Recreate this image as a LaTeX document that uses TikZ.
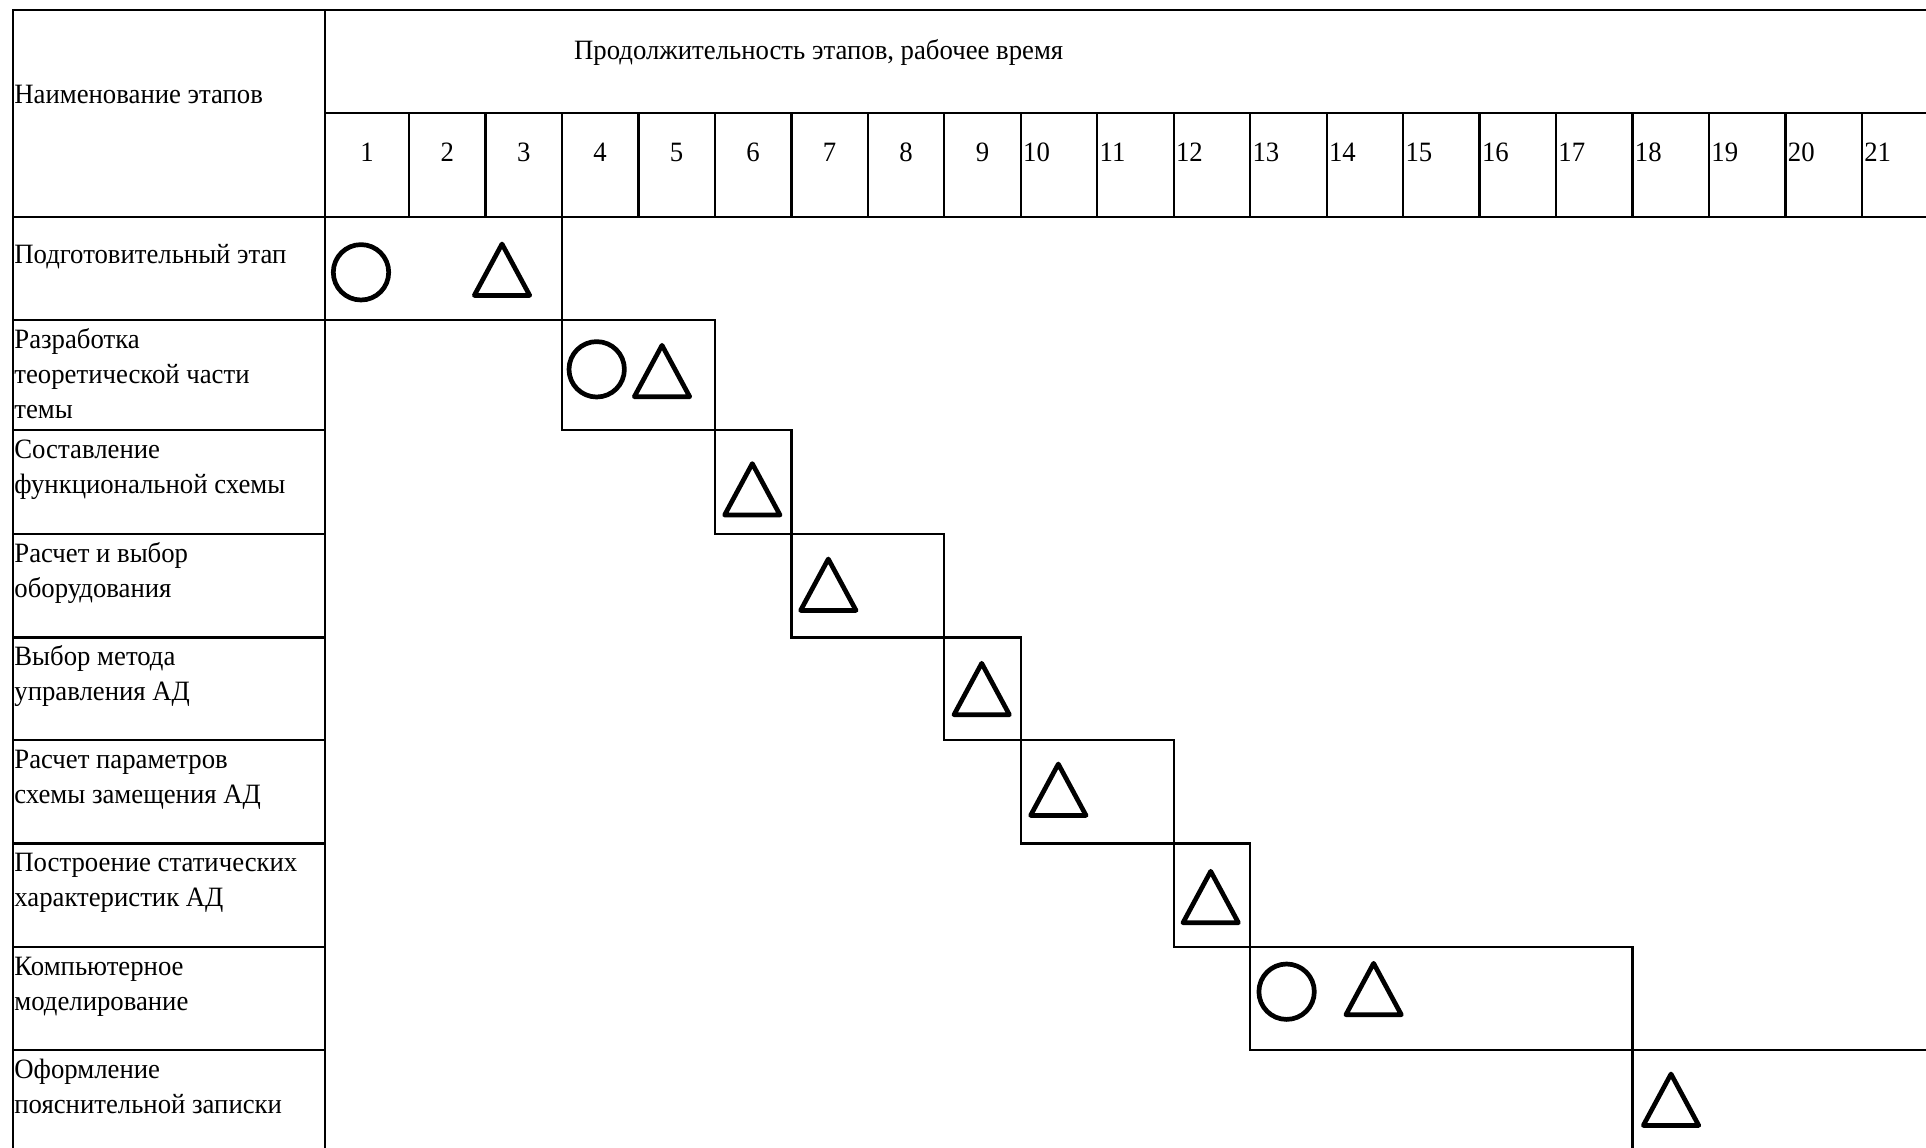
\documentclass[tikz,border=0pt]{standalone}
\usepackage{fontspec}
\setmainfont{Liberation Serif}[FakeStretch=0.955]
\begin{document}
\begin{tikzpicture}[x=0.5pt,y=-0.5pt,
  gridline/.style={line width=1.15pt},
  sym/.style={line width=2.35pt, line join=round, line cap=round},
  txt/.style={inner sep=0pt, font=\fontsize{14pt}{17.5pt}\selectfont},
  lbl/.style={txt, anchor=base west},
  numc/.style={txt, anchor=base},
  numl/.style={txt, anchor=base west}]
\clip (0,0) rectangle (1926,1147);
\fill[white] (0,0) rectangle (1926,1147);
% outer frame and header
\draw[gridline] (1945,10) -- (13,10) -- (13,1160);
\draw[gridline] (325,10) -- (325,1160);
\draw[gridline] (325,113) -- (1945,113);
\draw[gridline] (13,217) -- (1945,217);
\foreach \k in {1,...,20}
  \draw[gridline] ({409+76.47*(\k-1)},113) -- ({409+76.47*(\k-1)},217);
% row lines in name column
\foreach \y in {320,430,534,637.5,740,843.5,947,1050}
  \draw[gridline] (13,\y) -- (325,\y);
% stage boxes
\draw[gridline] (325,217) rectangle ({409+76.47*2},320);
\draw[gridline] ({409+76.47*2},320) rectangle ({409+76.47*4},430);
\draw[gridline] ({409+76.47*4},430) rectangle ({409+76.47*5},534);
\draw[gridline] ({409+76.47*5},534) rectangle ({409+76.47*7},637.5);
\draw[gridline] ({409+76.47*7},637.5) rectangle ({409+76.47*8},740);
\draw[gridline] ({409+76.47*8},740) rectangle ({409+76.47*10},843.5);
\draw[gridline] ({409+76.47*10},843.5) rectangle ({409+76.47*11},947);
\draw[gridline] ({409+76.47*11},947) rectangle ({409+76.47*16},1050);
\draw[gridline] ({409+76.47*16},1160) -- ({409+76.47*16},1050) -- (1945,1050);
% header texts
\node[lbl] (hname) at (14,103) {Наименование этапов};
\node[txt, anchor=base] (hdur) at (818.7,59.5) {Продолжительность этапов, рабочее время};
\node[numc] (n1) at (367,161) {1};
\foreach \k in {2,...,9}
  \node[numc] (n\k) at ({409+76.47*(\k-1.5)},161) {\k};
\foreach \k in {10,...,21}
  \node[numl] (n\k) at ({409+76.47*(\k-2)+2},161) {\k};
% row labels
\node[lbl] (r1) at (14,263) {Подготовительный этап};
\node[lbl] (r2a) at (14,348) {Разработка};
\node[lbl] (r2b) at (14,383) {теоретической части};
\node[lbl] (r2c) at (14,418) {темы};
\node[lbl] (r3a) at (14,458) {Составление};
\node[lbl] (r3b) at (14,493) {функциональной схемы};
\node[lbl] (r4a) at (14,562) {Расчет и выбор};
\node[lbl] (r4b) at (14,597) {оборудования};
\node[lbl] (r5a) at (14,665.5) {Выбор метода};
\node[lbl] (r5b) at (14,700.5) {управления АД};
\node[lbl] (r6a) at (14,768) {Расчет параметров};
\node[lbl] (r6b) at (14,803) {схемы замещения АД};
\node[lbl] (r7a) at (14,871.5) {Построение статических};
\node[lbl] (r7b) at (14,906.5) {характеристик АД};
\node[lbl] (r8a) at (14,975) {Компьютерное};
\node[lbl] (r8b) at (14,1010) {моделирование};
\node[lbl] (r9a) at (14,1078) {Оформление};
\node[lbl] (r9b) at (14,1113) {пояснительной записки};
% circles (start)
\draw[sym] (361,272.3) circle[radius=27.7];
\draw[sym] (596.7,369.3) circle[radius=27.7];
\draw[sym] (1286.6,991.7) circle[radius=27.7];
% triangles (end)
\foreach \c/\b in {502/297.7, 662/399, 752.3/517.3, 828.3/612.7, 981.7/717,
                   1058.3/817.7, 1210.7/925, 1373.6/1017, 1671/1127.7}
  \draw[sym] ({\c-27.7},{\b-2.3}) -- ({\c+27.7},{\b-2.3}) -- (\c,{\b-53.7}) -- cycle;
\end{tikzpicture}
\end{document}
